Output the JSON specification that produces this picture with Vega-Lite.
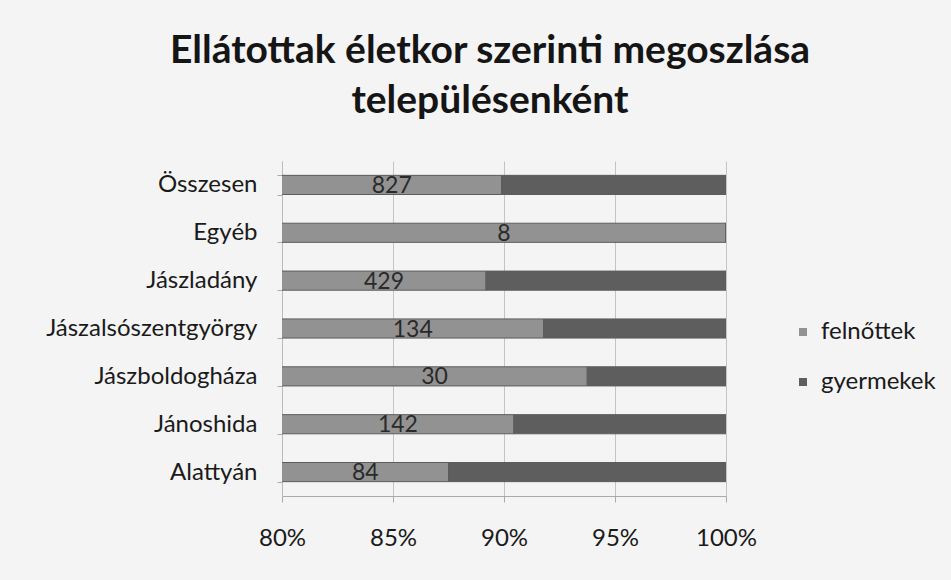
{
  "$schema": "https://vega.github.io/schema/vega-lite/v6.json",
  "width": 444,
  "height": 335,
  "autosize": {"type": "none"},
  "padding": {"left": 282, "top": 161, "right": 225, "bottom": 84},
  "background": "#f4f4f4",
  "title": {
    "text": ["Ellátottak életkor szerinti megoszlása", "településenként"],
    "font": "Lato",
    "fontSize": 39,
    "fontWeight": "bold",
    "color": "#151515",
    "anchor": "middle",
    "frame": "group",
    "lineHeight": 50,
    "dx": -14,
    "offset": 28
  },
  "data": {
    "values": [
      {"place": "Összesen", "group": "felnőttek", "count": 827},
      {"place": "Összesen", "group": "gyermekek", "count": 93},
      {"place": "Egyéb", "group": "felnőttek", "count": 8},
      {"place": "Egyéb", "group": "gyermekek", "count": 0},
      {"place": "Jászladány", "group": "felnőttek", "count": 429},
      {"place": "Jászladány", "group": "gyermekek", "count": 52},
      {"place": "Jászalsószentgyörgy", "group": "felnőttek", "count": 134},
      {"place": "Jászalsószentgyörgy", "group": "gyermekek", "count": 12},
      {"place": "Jászboldogháza", "group": "felnőttek", "count": 30},
      {"place": "Jászboldogháza", "group": "gyermekek", "count": 2},
      {"place": "Jánoshida", "group": "felnőttek", "count": 142},
      {"place": "Jánoshida", "group": "gyermekek", "count": 15},
      {"place": "Alattyán", "group": "felnőttek", "count": 84},
      {"place": "Alattyán", "group": "gyermekek", "count": 12}
    ]
  },
  "encoding": {
    "y": {
      "field": "place",
      "type": "nominal",
      "sort": ["Összesen", "Egyéb", "Jászladány", "Jászalsószentgyörgy", "Jászboldogháza", "Jánoshida", "Alattyán"],
      "scale": {"paddingInner": 0.6, "paddingOuter": 0.3},
      "axis": {
        "title": null,
        "labelFont": "Lato",
        "labelFontSize": 24,
        "labelColor": "#1a1a1a",
        "labelPadding": 20,
        "labelLimit": 0,
        "tickSize": 5,
        "tickBand": "extent",
        "tickColor": "#aaaaaa",
        "domainColor": "#bbbbbb",
        "grid": false
      }
    }
  },
  "layer": [
    {
      "mark": {"type": "bar", "clip": true, "stroke": "#5c5c5c", "strokeWidth": 1},
      "encoding": {
        "x": {
          "field": "count",
          "type": "quantitative",
          "stack": "normalize",
          "scale": {"domain": [0.8, 1]},
          "axis": {
            "title": null,
            "values": [0.8, 0.85, 0.9, 0.95, 1],
            "format": ".0%",
            "labelFont": "Lato",
            "labelFontSize": 24,
            "labelColor": "#1a1a1a",
            "labelPadding": 24,
            "labelFlush": false,
            "tickSize": 6,
            "tickColor": "#aaaaaa",
            "domainColor": "#aaaaaa",
            "grid": true,
            "gridColor": "#c4c4c4",
            "gridWidth": 1
          }
        },
        "color": {
          "field": "group",
          "type": "nominal",
          "scale": {"domain": ["felnőttek", "gyermekek"], "range": ["#929292", "#5e5e5e"]},
          "legend": {
            "title": null,
            "orient": "none",
            "legendX": 509,
            "legendY": 159,
            "padding": 0,
            "labelFont": "Lato",
            "labelFontSize": 24,
            "labelColor": "#1a1a1a",
            "labelOffset": 6,
            "symbolType": "square",
            "symbolSize": 64,
            "symbolStrokeWidth": 0,
            "rowPadding": 26
          }
        },
        "order": {"field": "group", "sort": "ascending"}
      }
    },
    {
      "transform": [
        {"stack": "count", "groupby": ["place"], "offset": "normalize", "sort": [{"field": "group", "order": "ascending"}], "as": ["s0", "s1"]},
        {"filter": "datum.group === 'felnőttek'"}
      ],
      "mark": {"type": "text", "font": "Lato", "fontSize": 23, "color": "#2a2a2a", "baseline": "middle", "align": "center", "dy": 1},
      "encoding": {
        "x": {"field": "s1", "type": "quantitative", "scale": {"domain": [0.6, 1], "range": [-222, 222]}, "axis": null},
        "text": {"field": "count", "type": "quantitative"}
      }
    }
  ],
  "resolve": {"scale": {"x": "independent"}},
  "config": {"view": {"stroke": null}}
}
